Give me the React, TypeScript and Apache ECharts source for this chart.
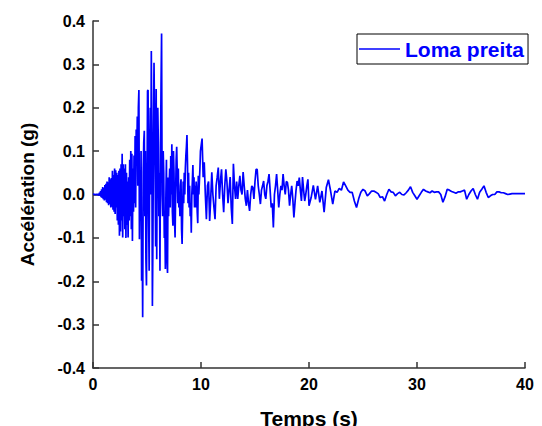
import React, { useEffect, useRef } from "react";
import * as echarts from "echarts";

// Acceleration (g), 0–10 s, sampled every 0.05 s
const accStrong: number[] = [
  0, 0, 0.001, 0, -0.001, 0, 0.001, 0, -0.001, 0.001,
  0, -0.002, 0.004, -0.003, 0.008, -0.006, 0.012, -0.008, 0.017, -0.011,
  0.015, -0.014, 0.022, -0.012, 0.025, -0.018, 0.03, -0.02, 0.028, -0.025,
  0.04, -0.022, 0.035, -0.03, 0.038, -0.028, 0.055, -0.035, 0.045, -0.04,
  0.06, -0.045, 0.056, -0.03, 0.05, -0.06, 0.045, -0.07, 0.055, -0.095,
  0.06, -0.085, 0.07, -0.06, 0.094, -0.099, 0.07, -0.05, 0.06, -0.08,
  0.07, -0.1, 0.05, -0.07, 0.03, -0.099, 0.04, -0.06, 0.08, -0.05,
  0.1, -0.08, 0.094, -0.107, 0.06, -0.04, 0.09, -0.02, 0.135, -0.03,
  0.15, 0.08, 0.18, 0.02, 0.2, 0.241, -0.103, 0.02, -0.06, 0.1,
  -0.199, -0.08, -0.283, 0.05, 0.12, 0.147, -0.05, 0.1, -0.15, -0.21,
  0.0, 0.239, 0.241, -0.05, -0.176, 0.1, 0.2, 0.0, 0.331, 0.1,
  -0.257, -0.1, 0.15, 0.304, 0.305, 0.05, -0.12, 0.243, -0.149, 0.1,
  0.2, 0.12, -0.05, 0.05, -0.176, 0.1, 0.25, 0.371, 0.0, -0.05,
  0.1, 0.05, -0.1, -0.05, -0.172, 0.0, 0.08, -0.15, -0.181, 0.039,
  -0.05, 0.02, 0.06, -0.03, 0.089, 0.0, 0.116, -0.04, -0.072, 0.1,
  0.05, -0.06, -0.099, 0.0, 0.08, 0.11, 0.05, -0.02, 0.06, -0.03,
  0.0, -0.05, 0.02, 0.035, -0.08, -0.114, -0.04, 0.03, -0.02, 0.05,
  0.0, 0.06, 0.09, 0.11, 0.137, 0.07, -0.02, 0.05, -0.03, 0.02,
  -0.05, -0.02, -0.088, 0.0, 0.03, 0.068, 0.0, 0.04, -0.03, 0.02,
  -0.03, 0.03, 0.01, -0.04, -0.066, 0.043, 0.0, 0.03, 0.06, 0.1,
];

// Acceleration (g), 10–20 s, sampled every 0.1 s
const accMid: number[] = [
  0.11, 0.129, 0.04, 0.074, 0.0, -0.057, 0.02, 0.03, -0.061, -0.01,
  0.051, 0.0, -0.03, -0.057, 0.02, 0.04, 0.062, -0.01, 0.03, 0.058,
  0.0, -0.041, 0.02, 0.058, 0.03, -0.02, 0.01, 0.04, -0.03, -0.068,
  0.071, 0.02, -0.01, 0.03, -0.01, 0.02, 0.043, 0.01, 0.0, 0.052,
  0.02, -0.01, -0.026, 0.01, -0.02, -0.038, 0.0, 0.02, 0.016, -0.01,
  0.03, 0.058, 0.058, 0.02, 0.0, -0.022, 0.01, 0.02, 0.031, 0.0,
  -0.01, 0.02, 0.03, 0.047, 0.01, -0.03, -0.02, -0.076, 0.0, 0.02,
  0.047, 0.01, -0.03, 0.0, 0.02, 0.01, 0.047, 0.02, 0.0, 0.03,
  0.028, 0.01, -0.026, 0.0, 0.02, -0.01, -0.053, -0.02, 0.01, 0.031,
  0.02, 0.039, 0.01, -0.015, 0.04, 0.01, -0.015, 0.0, 0.02, 0.035,
];

// Acceleration (g), 20–40 s, sampled every 0.2 s
const accTail: number[] = [
  -0.026, -0.007, 0.021, -0.011, 0.02, -0.018, 0.008, -0.041, 0.016, 0.034,
  0.008, -0.022, 0.008, 0.005, 0.014, 0.01, 0.029, 0.02, 0.01, 0.005,
  0.005, -0.015, -0.03, -0.01, 0.005, 0.012, 0.008, -0.003, 0.002, 0.008,
  0.008, 0.005, 0.002, -0.007, -0.005, -0.015, 0.0, 0.012, 0.006, 0.005,
  -0.003, 0.002, 0.005, 0.0, -0.001, 0.004, 0.01, 0.018, 0.005, -0.003,
  -0.011, -0.003, 0.005, 0.012, 0.008, 0.006, 0.004, 0.008, 0.005, 0.006,
  0.006, 0.0, -0.018, -0.005, 0.012, 0.01, 0.007, 0.005, 0.003, 0.006,
  0.006, 0.008, 0.01, -0.011, 0.0, 0.008, 0.014, 0.0, -0.011, 0.005,
  0.012, 0.02, 0.005, -0.007, -0.003, 0.0, 0.0, 0.006, 0.006, 0.004,
  0.004, 0.002, 0.0, 0.001, 0.002, 0.002, 0.002, 0.002, 0.002, 0.002,
  0.002,
];

const segments = [
  { start: 0, step: 0.05, values: accStrong },
  { start: 10, step: 0.1, values: accMid },
  { start: 20, step: 0.2, values: accTail },
];

const seriesName = "Loma preita";
const xTicks = { min: 0, max: 40, interval: 10 };
const yTicks = { min: -0.4, max: 0.4, interval: 0.1 };

const FONT = "'Liberation Sans', Arial, sans-serif";

export default function App() {
  const ref = useRef<HTMLDivElement>(null);

  useEffect(() => {
    if (!ref.current) return;
    const chart = echarts.init(ref.current, undefined, { renderer: "svg" });

    const data: [number, number][] = [];
    segments.forEach((seg) => {
      seg.values.forEach((v, i) => {
        data.push([+(seg.start + i * seg.step).toFixed(3), v]);
      });
    });

    const axisLine = { show: true, onZero: false, lineStyle: { color: "#333", width: 1.5 } };
    const axisTick = { show: true, inside: true, length: 6, lineStyle: { color: "#333", width: 1.5 } };

    chart.setOption({
      animation: false,
      backgroundColor: "#fff",
      grid: {
        left: 93,
        right: 17,
        top: 21,
        bottom: 58,
        containLabel: false,
        outerBoundsMode: "none",
      },
      legend: {
        show: true,
        left: 357,
        top: 34,
        orient: "horizontal",
        borderColor: "#000",
        borderWidth: 1,
        borderRadius: 0,
        padding: [4, 4, 4, 2],
        itemWidth: 41,
        itemHeight: 14,
        itemGap: 5,
        textStyle: { color: "#0000ff", fontWeight: "bold", fontSize: 21, fontFamily: FONT, lineHeight: 22 },
        data: [{ name: seriesName, icon: "path://M0,0 L40,0 L40,1.3 L0,1.3 Z" }],
      },
      xAxis: {
        type: "value",
        min: xTicks.min,
        max: xTicks.max,
        interval: xTicks.interval,
        name: "Temps (s)",
        nameLocation: "middle",
        nameGap: 40,
        nameTextStyle: { color: "#000", fontWeight: "bold", fontSize: 21, fontFamily: FONT },
        axisLine,
        axisTick,
        splitLine: { show: false },
        axisLabel: { color: "#000", fontWeight: "bold", fontSize: 16, fontFamily: FONT, margin: 8 },
      },
      yAxis: {
        type: "value",
        min: yTicks.min,
        max: yTicks.max,
        interval: yTicks.interval,
        name: "Accélération (g)",
        nameLocation: "middle",
        nameRotate: 90,
        nameGap: 56,
        nameTextStyle: { color: "#000", fontWeight: "bold", fontSize: 19, fontFamily: FONT },
        axisLine,
        axisTick,
        splitLine: { show: false },
        axisLabel: {
          color: "#000",
          fontWeight: "bold",
          fontSize: 16,
          fontFamily: FONT,
          margin: 8,
          formatter: (v: number) => v.toFixed(1),
        },
      },
      series: [
        {
          name: seriesName,
          type: "line",
          data,
          symbol: "none",
          showSymbol: false,
          color: "#0000ff",
          lineStyle: { color: "#0000ff", width: 1.7 },
        },
      ],
    });

    return () => chart.dispose();
  }, []);

  return (
    <div
      ref={ref}
      style={{ position: "fixed", left: 0, top: 0, width: 542, height: 426 }}
    />
  );
}
